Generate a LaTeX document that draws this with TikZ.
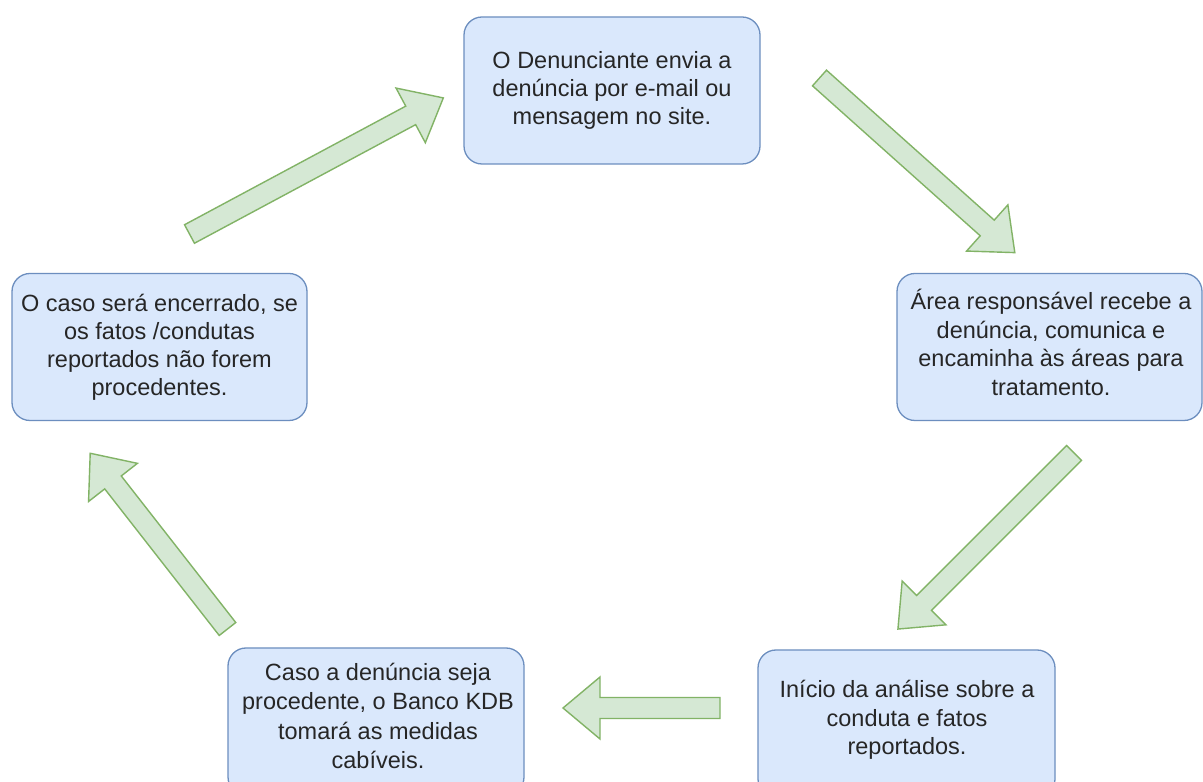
\documentclass[tikz,border=0pt]{standalone}
\usepackage{fontspec}
\setmainfont{Liberation Sans}
\definecolor{boxfill}{HTML}{DAE8FC}
\definecolor{boxline}{HTML}{6C8EBF}
\definecolor{arrfill}{HTML}{D5E8D4}
\definecolor{arrline}{HTML}{82B366}
\definecolor{txt}{HTML}{262626}
\newcommand\blockarrow[4]{%
  \begin{scope}[shift={(#1)}, rotate=#2]
    \draw[garrow] (0,-10.5) -- ({#3-37},-10.5) -- ({#3-37},-31) -- (#3,0)
      -- ({#3-37},31) -- ({#3-37},10.5) -- (0,10.5) -- cycle;
  \end{scope}}
\begin{document}
\begin{tikzpicture}[x=1pt,y=1pt,
  box/.style={draw=boxline, fill=boxfill, line width=1.3pt, rounded corners=18pt,
    rectangle, inner sep=0pt, minimum height=147pt, align=center, text=txt,
    font=\fontsize{23.5}{28}\selectfont},
  lbl/.style={text=txt, align=center, font=\fontsize{23.5}{28.5}\selectfont},
  garrow/.style={draw=arrline, fill=arrfill, line width=1.4pt, line join=miter}]
\useasboundingbox[fill=white] (0,0) rectangle (1203,782);

\node[box, minimum width=296pt] (b1) at (612,691.5)
  {O Denunciante envia a\\denúncia por e-mail ou\\mensagem no site.};
\node[box, minimum width=305pt] (b2) at (1049.5,435) {};
\node[lbl] (t2) at (1051,439.5)
  {Área responsável recebe a\\denúncia, comunica e\\encaminha às áreas para\\tratamento.};
\node[box, minimum width=297pt] (b3) at (906.5,58.5) {};
\node[lbl] (t3) at (907,62)
  {Início da análise sobre a\\conduta e fatos\\reportados.};
\node[box, minimum width=296pt] (b4) at (376,60.5) {};
\node[lbl, font=\fontsize{23.5}{29.3}\selectfont] (t4) at (378,66)
  {Caso a denúncia seja\\procedente, o Banco KDB\\tomará as medidas\\cabíveis.};
\node[box, minimum width=295pt] (b5) at (159.5,435)
  {O caso será encerrado, se\\os fatos /condutas\\reportados não forem\\procedentes.};

\blockarrow{189.5,548}{28.2}{288}{}
\blockarrow{819.5,704}{-41.8}{262}{}
\blockarrow{1074,329}{225}{249}{}
\blockarrow{720,74}{180}{157}{}
\blockarrow{227.5,153}{128}{223}{}
\end{tikzpicture}
\end{document}
